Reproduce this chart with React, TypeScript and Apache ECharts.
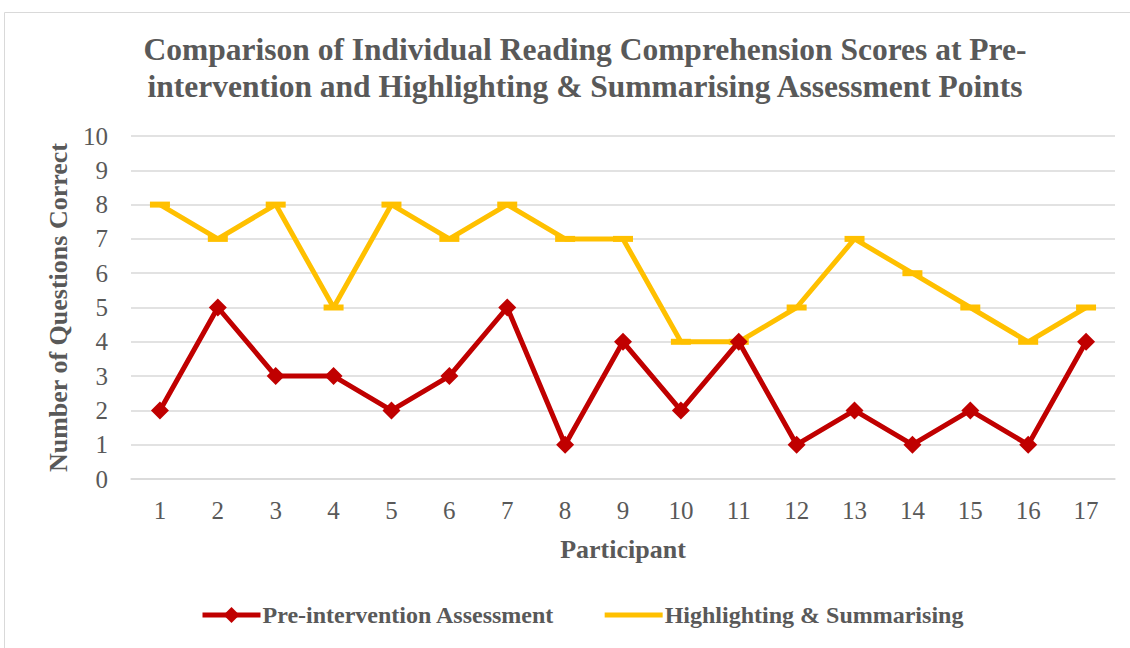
import React, { useEffect, useRef } from "react";
import * as echarts from "echarts";

const participants = ["1","2","3","4","5","6","7","8","9","10","11","12","13","14","15","16","17"];
const preIntervention = [2,5,3,3,2,3,5,1,4,2,4,1,2,1,2,1,4];
const highlighting = [8,7,8,5,8,7,8,7,7,4,4,5,7,6,5,4,5];

const FONT = "Liberation Serif";
const GRAY = "#595959";

export default function App() {
  const ref = useRef<HTMLDivElement>(null);
  useEffect(() => {
    const chart = echarts.init(ref.current!, null, { renderer: "svg" });
    chart.setOption({
      animation: false,
      backgroundColor: "#ffffff",
      graphic: [
        {
          type: "rect",
          shape: { x: 4.5, y: 12.5, width: 1130, height: 650 },
          style: { fill: "none", stroke: "#d9d9d9", lineWidth: 1 },
          silent: true,
        },
      ],
      title: {
        text: "Comparison of Individual Reading Comprehension Scores at Pre-\nintervention and Highlighting & Summarising Assessment Points",
        left: 580,
        textAlign: "center",
        top: 26,
        textStyle: {
          fontFamily: FONT,
          fontSize: 31.5,
          fontWeight: "bold",
          color: GRAY,
          lineHeight: 37,
        },
      },
      grid: { left: 131, right: 15, top: 136, bottom: 169, containLabel: false },
      xAxis: {
        type: "category",
        data: participants,
        boundaryGap: true,
        axisLine: { show: true, lineStyle: { color: "#d9d9d9", width: 1.5 } },
        axisTick: { show: false },
        axisLabel: { fontFamily: FONT, fontSize: 25, color: GRAY, margin: 19 },
        name: "Participant",
        nameLocation: "middle",
        nameGap: 57,
        nameTextStyle: { fontFamily: FONT, fontSize: 26, fontWeight: "bold", color: GRAY },
      },
      yAxis: {
        type: "value",
        min: 0,
        max: 10,
        interval: 1,
        axisLine: { show: false },
        axisTick: { show: false },
        axisLabel: { fontFamily: FONT, fontSize: 25, color: GRAY, margin: 23 },
        splitLine: { lineStyle: { color: "#d9d9d9", width: 1.5 } },
        name: "Number of Questions Correct",
        nameLocation: "middle",
        nameGap: 60,
        nameTextStyle: { fontFamily: FONT, fontSize: 26, fontWeight: "bold", color: GRAY },
      },
      legend: {
        top: 603,
        left: 200,
        padding: 0,
        itemWidth: 58,
        itemHeight: 20,
        itemGap: 50,
        symbolKeepAspect: true,
        lineStyle: { width: 5 },
        textStyle: { fontFamily: FONT, fontSize: 24, fontWeight: "bold", color: GRAY, padding: [0, 0, 0, -3] },
        data: [
          { name: "Pre-intervention Assessment" },
          { name: "Highlighting & Summarising", icon: "path://M0,0H58V5H0Z" },
        ],
      },
      series: [
        {
          name: "Pre-intervention Assessment",
          type: "line",
          data: preIntervention,
          color: "#c00000",
          lineStyle: { width: 5, color: "#c00000" },
          symbol: "diamond",
          symbolSize: 18,
          itemStyle: { color: "#c00000" },
          z: 3,
        },
        {
          name: "Highlighting & Summarising",
          type: "line",
          data: highlighting,
          color: "#ffc000",
          lineStyle: { width: 5, color: "#ffc000" },
          symbol: "rect",
          symbolSize: [20, 6],
          itemStyle: { color: "#ffc000" },
          z: 2,
        },
      ],
    });
    return () => chart.dispose();
  }, []);
  return (
    <div
      ref={ref}
      style={{ position: "absolute", left: 0, top: 0, width: 1130, height: 648 }}
    />
  );
}
